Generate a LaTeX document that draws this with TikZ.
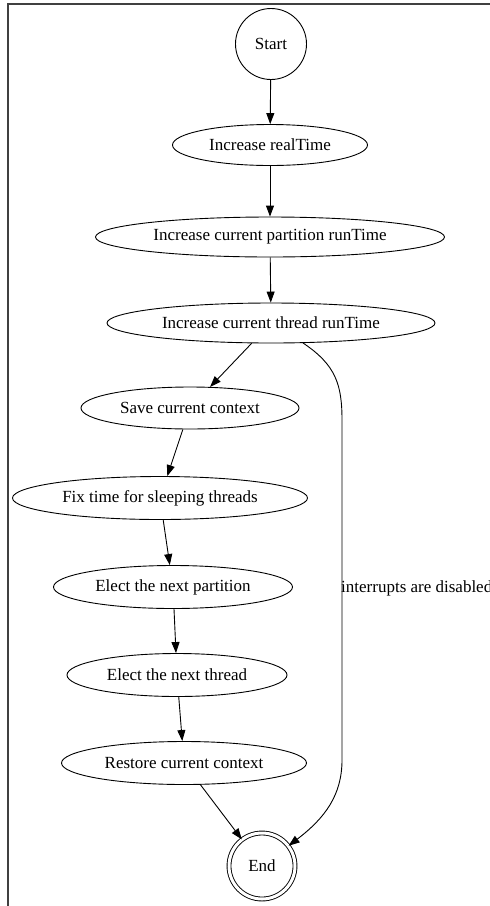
\documentclass[tikz,border=0pt]{standalone}
\usepackage{fontspec}
\setmainfont{Liberation Serif}
\usetikzlibrary{shapes.geometric,arrows.meta}
\begin{document}
\begin{tikzpicture}[x=1pt,y=-1pt,
  every node/.style={font=\fontsize{17}{20}\selectfont},
  oval/.style={draw,ellipse,inner sep=0pt,line width=0.9pt},
  circ/.style={draw,circle,inner sep=0pt,line width=0.9pt,minimum size=71pt},
  dcirc/.style={draw,circle,inner sep=0pt,line width=0.9pt,minimum size=66pt,double,double distance=3pt},
  flow/.style={draw,line width=0.9pt,-{Triangle[length=11pt,width=8pt]}},
  frame/.style={draw=black!75,line width=1.6pt}]
\useasboundingbox (0,0) rectangle (490,906);
\fill[white] (0,0) rectangle (490,906);
\draw[frame] (8,906) -- (8,4) -- (490,4);

\node[circ] (st) at (271,44) {Start};
\node[oval,minimum width=195pt,minimum height=41pt] (rt) at (270,145) {Increase realTime};
\node[oval,minimum width=349pt,minimum height=40pt] (pt) at (270,237) {Increase current partition runTime};
\node[oval,minimum width=328pt,minimum height=40pt] (thr) at (271,323) {Increase current thread runTime};
\node[oval,minimum width=218pt,minimum height=42pt] (sv) at (190,408) {Save current context};
\node[oval,minimum width=295pt,minimum height=43pt] (fx) at (160,498) {Fix time for sleeping threads};
\node[oval,minimum width=239pt,minimum height=43pt] (ep) at (173,587) {Elect the next partition};
\node[oval,minimum width=220pt,minimum height=43pt] (et) at (177,675) {Elect the next thread};
\node[oval,minimum width=245pt,minimum height=43pt] (rs) at (184,763) {Restore current context};
\node[dcirc] (en) at (262,866) {End};
\node[anchor=west,inner sep=0pt] (lbl) at (341,588) {interrupts are disabled};

\draw[flow] (st) -- (rt);
\draw[flow] (rt) -- (pt);
\draw[flow] (pt) -- (thr);
\draw[flow] (thr) -- (sv);
\draw[flow] (sv) -- (fx);
\draw[flow] (fx) -- (ep);
\draw[flow] (ep) -- (et);
\draw[flow] (et) -- (rs);
\draw[flow] (rs) -- (en);
\draw[flow] (thr.-32) .. controls (336,365) and (342,385) .. (342,420)
  -- (342,760) .. controls (342,795) and (325,818) .. (en);
\end{tikzpicture}
\end{document}
